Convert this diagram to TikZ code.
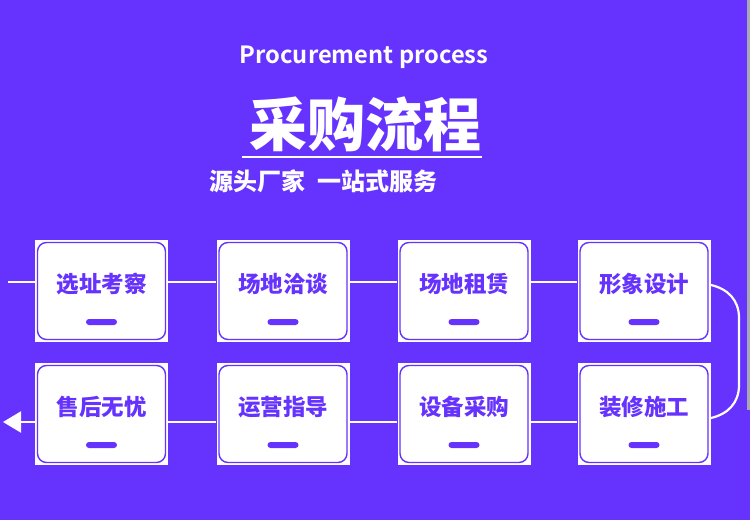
\documentclass[tikz,border=0pt]{standalone}
\usepackage{fontspec}
\setmainfont{Noto Sans CJK SC}[BoldFont={Noto Sans CJK SC Bold}]
\newfontfamily\cjkb{Noto Sans CJK SC Bold}
\newfontfamily\cjkh{Noto Sans CJK SC Black}
\usetikzlibrary{arrows.meta,positioning}
\definecolor{bgpurple}{HTML}{6632FE}
\definecolor{edgegray}{HTML}{A8A8B0}
\tikzset{
  whitebg/.style={fill=white, minimum width=133pt, minimum height=102pt, inner sep=0pt},
  card/.style={draw=bgpurple, line width=1.4pt, rounded corners=9pt, fill=white, minimum width=128pt, minimum height=97pt, inner sep=0pt},
  label/.style={text=bgpurple, font=\cjkh\fontsize{22.5}{23}\selectfont, inner sep=0pt},
  pill/.style={fill=bgpurple, rounded corners=3pt, minimum width=31pt, minimum height=6pt, inner sep=0pt},
  conn/.style={draw=white, line width=2.2pt},
}
\begin{document}
\begin{tikzpicture}[x=1pt,y=-1pt]
\fill[bgpurple] (0,0) rectangle (750,520);
\fill[edgegray] (747,0) rectangle (750,410);
\useasboundingbox (0,0) rectangle (750,520);
% titles
\node[text=white, font=\cjkb\fontsize{23.7}{24}\selectfont, inner sep=0pt] (en) at (364,57) {Procurement process};
\node[text=white, font=\cjkh\fontsize{58}{58}\selectfont, inner sep=0pt] (zh) at (365,124) {采购流程};
\coordinate (ul1) at (242,157);
\coordinate (ul2) at (482,157);
\draw[white, line width=1.6pt] (ul1) -- (ul2);
\node[text=white, font=\cjkh\fontsize{24}{24}\selectfont, inner sep=0pt] (sub) at (323,181) {源头厂家\hspace{0.5em}一站式服务};
% coordinates
\def\rowA{291}
\def\rowB{414}
\foreach \n/\x/\y/\t in {a/101.5/\rowA/选址考察, b/283/\rowA/场地洽谈, c/464/\rowA/场地租赁, d/644/\rowA/形象设计,
                         h/101.5/\rowB/售后无忧, g/283/\rowB/运营指导, f/464/\rowB/设备采购, e/644/\rowB/装修施工}{
  \node[whitebg] (\n bg) at (\x,\y) {};
  \node[card] (\n) at (\x,\y) {};
  \node[label] (\n t) at (\x,\y-7) {\t};
  \node[pill] (\n p) at (\x,\y+31) {};
}
% connectors row 1 (y=282)
\coordinate (startA) at (8,282);
\draw[conn] (startA) -- (abg.west |- startA);
\draw[conn] (abg.east |- startA) -- (bbg.west |- startA);
\draw[conn] (bbg.east |- startA) -- (cbg.west |- startA);
\draw[conn] (cbg.east |- startA) -- (dbg.west |- startA);
% right return
\coordinate (r1) at (711,285);
\coordinate (r2) at (711,418);
\draw[conn] (r1) .. controls (728,289) and (739,300) .. (739,318) -- (739,385) .. controls (739,403) and (728,414) .. (r2);
% row 2 (y=422)
\coordinate (endB) at (3,422);
\draw[conn] (ebg.west |- endB) -- (fbg.east |- endB);
\draw[conn] (fbg.west |- endB) -- (gbg.east |- endB);
\draw[conn] (gbg.west |- endB) -- (hbg.east |- endB);
\draw[conn, -{Triangle[width=21pt,length=18pt]}] (hbg.west |- endB) -- (endB);
\end{tikzpicture}
\end{document}
